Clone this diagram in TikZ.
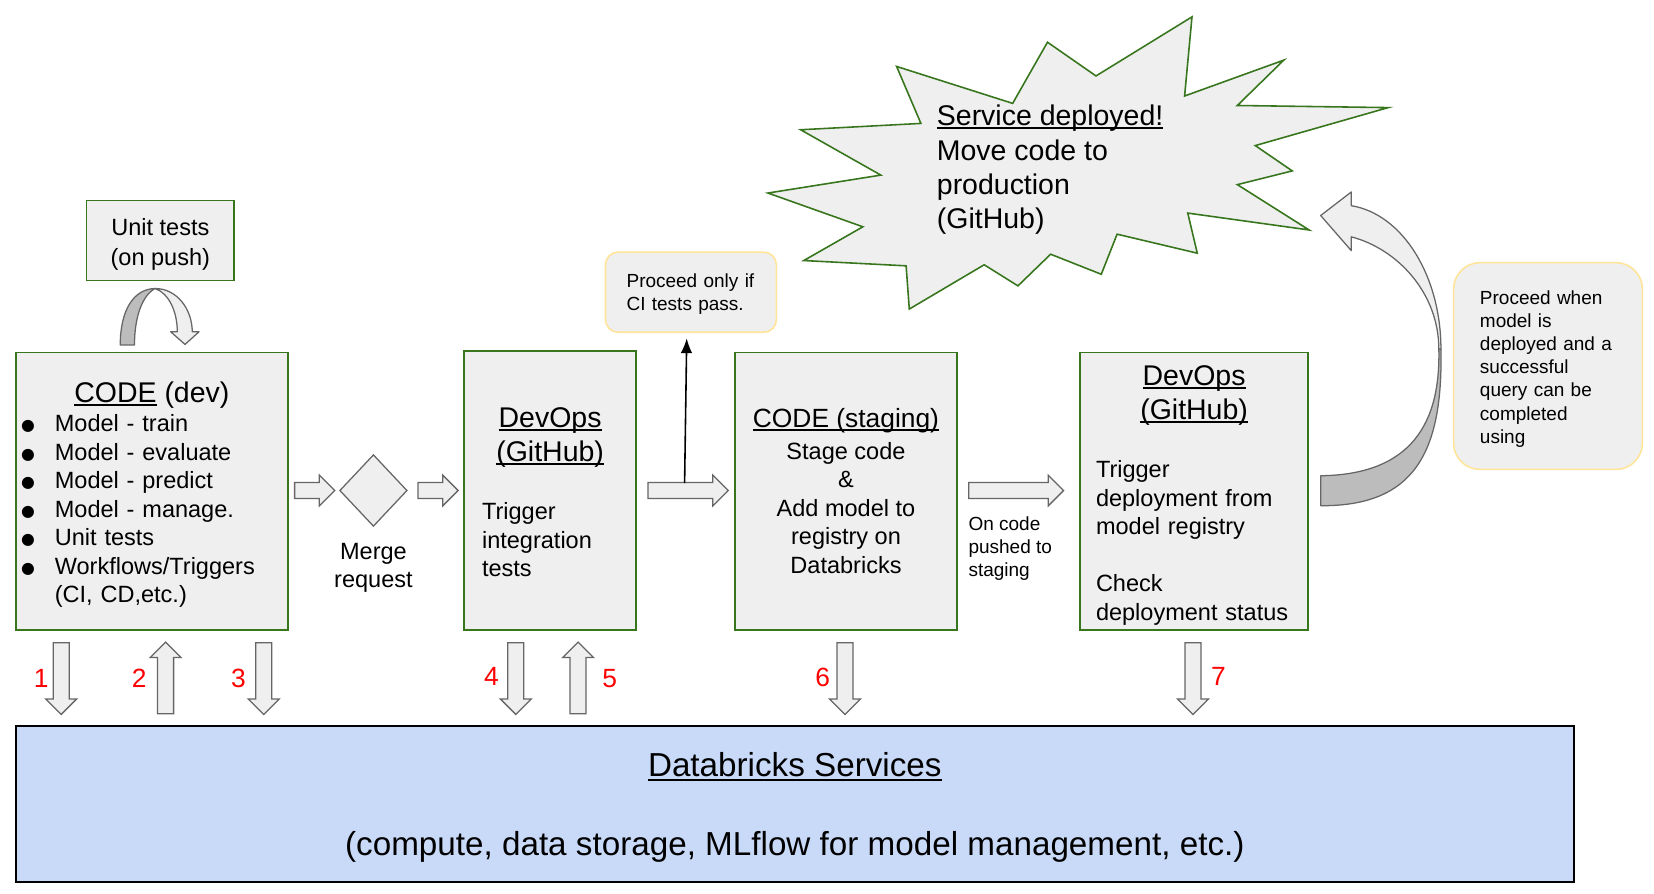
\documentclass[tikz,border=0pt]{standalone}
\usepackage{fontspec}
\setmainfont{Liberation Sans}
\newfontfamily\symfont{DejaVu Sans}
\usetikzlibrary{shapes.geometric, shapes.arrows, positioning, arrows.meta}

\definecolor{boxgreen}{HTML}{38761D}
\definecolor{boxfill}{HTML}{EFEFEF}
\definecolor{arrowgray}{HTML}{666666}
\definecolor{darkfill}{HTML}{BCBCBC}
\definecolor{noteline}{HTML}{FFE599}
\definecolor{dbfill}{HTML}{C9DAF8}

\newcommand{\undl}[1]{\setbox0=\hbox{#1}\rlap{\rule[-0.12em]{\wd0}{0.07em}}\box0\relax}
\newcommand{\topgap}[1]{\rule{0pt}{#1}}
\newcommand{\bodyfont}{\fontsize{22.3}{27}\selectfont}
\newcommand{\titlefont}{\fontsize{27}{32.4}\selectfont}
\newcommand{\notefont}{\fontsize{18}{22}\selectfont}
\newcommand{\bigfont}{\fontsize{31.5}{37}\selectfont}
\newcommand{\itm}{\makebox[32pt][l]{\raisebox{1pt}{\fontsize{15}{15}\symfont ●}}}

\tikzset{x=1pt, y=-1pt, every node/.style={inner sep=0pt},
  stagebox/.style={draw=boxgreen, fill=boxfill, line width=1.5pt, font=\bodyfont},
  blockarrow/.style={single arrow, draw=arrowgray, fill=boxfill, line width=1.2pt, inner ysep=7pt, single arrow head extend=7pt, minimum height=#1},
  note/.style={draw=noteline, fill=boxfill, line width=1.5pt, rounded corners=12pt, font=\notefont, align=left},
  num/.style={text=red, font=\fontsize{25}{30}\selectfont},
  curl/.style={draw=arrowgray, line width=1.2pt, line join=round},
}

\begin{document}
\begin{tikzpicture}
        \path[use as bounding box, fill=white] (0,0) rectangle (1568,847);

        % boxes
        \node[stagebox, minimum width=140pt, minimum height=76pt, align=center] (unit) at (152,228) {\topgap{23pt}Unit tests\\[1.2pt](on push)};
        \node[stagebox, minimum width=258pt, minimum height=263pt, text width=248pt, align=left] (dev) at (144,465.5) {\topgap{26.7pt}\makebox[\linewidth]{\titlefont\undl{CODE} (dev)}\\[0.5pt]
                \itm Model - train\\ \itm Model - evaluate\\ \itm Model - predict\\ \itm Model - manage.\\
                \itm Unit tests\\ \itm Workflows/Triggers\\ \hspace*{32pt}(CI, CD,etc.)};
        \node[diamond, draw=arrowgray, fill=boxfill, line width=1.2pt, minimum width=64pt, minimum height=68pt] (merge) at (354,465) {};
        \node[below=15pt of merge, align=center, font=\bodyfont] (mergetxt) {Merge\\[-0.2pt]request};
        \node[stagebox, minimum width=163pt, minimum height=264pt, text width=129pt, align=left] (cibox) at (521.5,465) {\topgap{22.3pt}\makebox[\linewidth]{\titlefont\undl{DevOps}}\\[5.4pt]
                \makebox[\linewidth]{\titlefont\undl{(GitHub)}}\\[28pt] Trigger\\ integration\\ tests};
        \node[stagebox, minimum width=210pt, minimum height=263pt, align=center] (staging) at (802,465.5) {{\fontsize{25}{30}\selectfont\undl{CODE (staging)}}\\[3pt]
                Stage code\\ \&\\ Add model to\\ registry on\\ Databricks};
        \node[stagebox, minimum width=216pt, minimum height=263pt, text width=186pt, align=left] (cdbox) at (1132,465.5) {\topgap{27.3pt}\makebox[\linewidth]{\titlefont\undl{DevOps}}\\[5.4pt]
                \makebox[\linewidth]{\titlefont\undl{(GitHub)}}\\[28pt] Trigger\\ deployment from\\ model registry\\[27pt] Check\\ deployment status};
        \node[draw=black, fill=dbfill, line width=1.5pt, minimum width=1477pt, minimum height=148pt, align=center, font=\bigfont] (dbx) at (753.5,762) {\topgap{29.6pt}\undl{Databricks Services}\\[37pt]
                (compute, data storage, MLflow for model management, etc.)};

        % notes
        \node[note, minimum width=162pt, minimum height=76pt, text width=122pt] (passnote) at (655,277) {\topgap{17.3pt}Proceed only if\\ CI tests pass.};
        \node[note, rounded corners=25pt, minimum width=179pt, minimum height=196pt, text width=129pt] (querynote) at (1467.5,347) {\topgap{18.3pt}Proceed when\\ model is\\ deployed and a\\ successful\\ query can be\\ completed\\ using};
        \node[font=\notefont, align=left, anchor=west] (pushtxt) at (918,520) {On code\\ pushed to\\ staging};

        % burst
        \draw[draw=boxgreen, fill=boxfill, line width=1.5pt] (850,63) -- (873,117) -- (759,123) -- (835,166) -- (728,183) -- (818,215) -- (762,247) -- (859,252)
                -- (862,293) -- (933,251) -- (965,271) -- (996,241) -- (1044,260) -- (1059,222) -- (1135,240) -- (1126,202) -- (1241,218) -- (1173,175)
                -- (1225,162) -- (1190,138) -- (1316,102) -- (1173,100) -- (1217,57) -- (1123,91) -- (1130,16) -- (1039,72) -- (993,40) -- (960,98) -- cycle;
        \node[font=\titlefont, align=left, anchor=west] (deploy) at (888,161) {\undl{Service deployed!}\\ Move code to\\ production\\ (GitHub)};

        % block arrows
        \node[blockarrow=38pt] (h1) at (294.5,465) {};
        \node[blockarrow=38pt] (h2) at (411.5,465) {};
        \node[blockarrow=76pt] (h3) at (648.5,465) {};
        \node[blockarrow=90pt] (h4) at (959.5,465) {};
        \node[blockarrow=68pt, rotate=-90] (v1) at (58,639.5) {};
        \node[blockarrow=68pt, rotate=90] (v2) at (157,646.5) {};
        \node[blockarrow=68pt, rotate=-90] (v3) at (250,639.5) {};
        \node[blockarrow=68pt, rotate=-90] (v4) at (489,639.5) {};
        \node[blockarrow=68pt, rotate=90] (v5) at (548,646.5) {};
        \node[blockarrow=68pt, rotate=-90] (v6) at (801,639.5) {};
        \node[blockarrow=68pt, rotate=-90] (v7) at (1131,639.5) {};

        \node[num] (n1) at (39,643) {1};
        \node[num] (n2) at (132,643) {2};
        \node[num] (n3) at (226,643) {3};
        \node[num] (n4) at (466,641) {4};
        \node[num] (n5) at (578,643) {5};
        \node[num] (n6) at (780,642) {6};
        \node[num] (n7) at (1155,641) {7};

        % gate arrow
        \coordinate (gate) at (649,458);
        \draw[line width=1.5pt, -{Latex[length=14pt, width=11pt]}] (gate) -- ([xshift=-4pt, yshift=-5pt]passnote.south);

        % curved arrows
        \draw[curl, fill=darkfill] (114,327) .. controls (114,295) and (126,274) .. (147,273.5) .. controls (135,280) and (127.5,300) .. (127.5,327) -- cycle;
        \draw[curl, fill=boxfill] (147,273.5) .. controls (167,273.5) and (182,292) .. (182.3,314.5) -- (188.7,314.5) -- (175.4,326.5) -- (161.8,314.5) -- (168.1,314.5)
                .. controls (168,295) and (160,278) .. (147,273.5) -- cycle;
        \draw[curl, fill=boxfill] (1281,195) .. controls (1330,203) and (1366,262) .. (1366,331) -- (1364,331) .. controls (1364,278) and (1325,236) .. (1281,224.5)
                -- (1281,237.6) -- (1252,204.3) -- (1281,182) -- cycle;
        \draw[curl, fill=darkfill] (1366,331) .. controls (1368,430) and (1340,480) .. (1252,479.4) -- (1252,451) .. controls (1328,450) and (1366,412) .. (1364,331) -- cycle;
\end{tikzpicture}
\end{document}
